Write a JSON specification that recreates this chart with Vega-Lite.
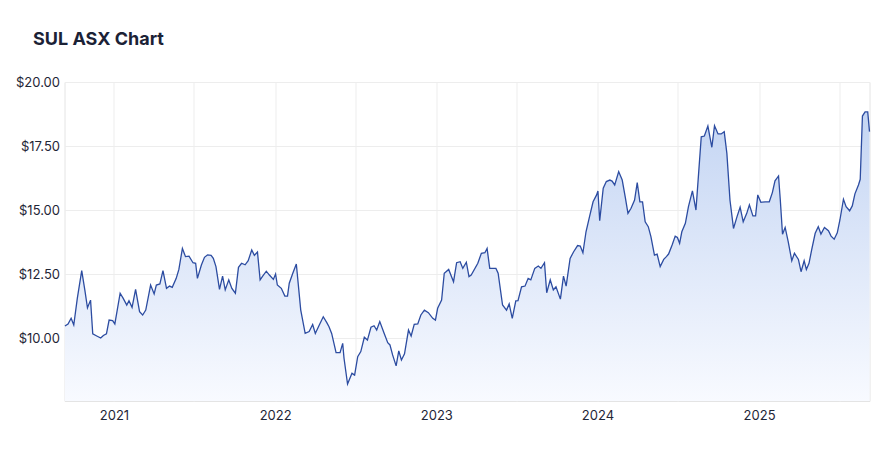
{
  "$schema": "https://vega.github.io/schema/vega-lite/v6.json",
  "autosize": {"type": "none"},
  "width": 805,
  "height": 319,
  "padding": {"left": 64.5, "top": 82, "right": 22.5, "bottom": 57},
  "background": "#ffffff",
  "title": {
    "text": "SUL ASX Chart",
    "anchor": "start",
    "frame": "group",
    "dx": -31.5,
    "offset": 27,
    "font": "Inter",
    "fontSize": 18,
    "fontWeight": 700,
    "color": "#1b2236"
  },
  "config": {
    "font": "Inter",
    "view": {"stroke": "#e4e4e4", "strokeWidth": 1},
    "axis": {
      "domain": false,
      "ticks": false,
      "gridColor": "#ededed",
      "gridWidth": 1,
      "labelFont": "Inter",
      "labelFontSize": 13,
      "labelColor": "#1f2637",
      "title": null,
      "zindex": 1
    }
  },
  "data": {
    "values": [
      {"date": "2020-09-12", "price": 10.47},
      {"date": "2020-09-19", "price": 10.55},
      {"date": "2020-09-26", "price": 10.77},
      {"date": "2020-10-02", "price": 10.51},
      {"date": "2020-10-10", "price": 11.55},
      {"date": "2020-10-20", "price": 12.63},
      {"date": "2020-10-27", "price": 11.88},
      {"date": "2020-11-02", "price": 11.18},
      {"date": "2020-11-09", "price": 11.48},
      {"date": "2020-11-14", "price": 10.16},
      {"date": "2020-11-23", "price": 10.08},
      {"date": "2020-12-02", "price": 10.00},
      {"date": "2020-12-08", "price": 10.10},
      {"date": "2020-12-15", "price": 10.16},
      {"date": "2020-12-21", "price": 10.70},
      {"date": "2020-12-29", "price": 10.68},
      {"date": "2021-01-03", "price": 10.55},
      {"date": "2021-01-15", "price": 11.75},
      {"date": "2021-01-22", "price": 11.55},
      {"date": "2021-01-30", "price": 11.29},
      {"date": "2021-02-04", "price": 11.46},
      {"date": "2021-02-11", "price": 11.20},
      {"date": "2021-02-19", "price": 11.90},
      {"date": "2021-02-28", "price": 11.03},
      {"date": "2021-03-07", "price": 10.90},
      {"date": "2021-03-14", "price": 11.09},
      {"date": "2021-03-25", "price": 12.07},
      {"date": "2021-04-02", "price": 11.72},
      {"date": "2021-04-07", "price": 12.07},
      {"date": "2021-04-15", "price": 12.11},
      {"date": "2021-04-22", "price": 12.63},
      {"date": "2021-04-30", "price": 11.94},
      {"date": "2021-05-07", "price": 12.03},
      {"date": "2021-05-13", "price": 11.98},
      {"date": "2021-05-22", "price": 12.33},
      {"date": "2021-05-28", "price": 12.68},
      {"date": "2021-06-05", "price": 13.50},
      {"date": "2021-06-12", "price": 13.18},
      {"date": "2021-06-20", "price": 13.20},
      {"date": "2021-06-29", "price": 12.94},
      {"date": "2021-07-05", "price": 12.92},
      {"date": "2021-07-09", "price": 12.33},
      {"date": "2021-07-18", "price": 12.85},
      {"date": "2021-07-25", "price": 13.15},
      {"date": "2021-08-01", "price": 13.25},
      {"date": "2021-08-09", "price": 13.23},
      {"date": "2021-08-14", "price": 13.11},
      {"date": "2021-08-20", "price": 12.79},
      {"date": "2021-08-28", "price": 11.90},
      {"date": "2021-09-04", "price": 12.42},
      {"date": "2021-09-10", "price": 11.88},
      {"date": "2021-09-18", "price": 12.27},
      {"date": "2021-09-25", "price": 11.94},
      {"date": "2021-10-03", "price": 11.75},
      {"date": "2021-10-10", "price": 12.76},
      {"date": "2021-10-17", "price": 12.92},
      {"date": "2021-10-25", "price": 12.86},
      {"date": "2021-11-01", "price": 13.02},
      {"date": "2021-11-09", "price": 13.44},
      {"date": "2021-11-15", "price": 13.23},
      {"date": "2021-11-22", "price": 13.36},
      {"date": "2021-11-28", "price": 12.27},
      {"date": "2021-12-03", "price": 12.40},
      {"date": "2021-12-12", "price": 12.61},
      {"date": "2021-12-19", "price": 12.46},
      {"date": "2021-12-28", "price": 12.29},
      {"date": "2022-01-02", "price": 12.50},
      {"date": "2022-01-06", "price": 12.07},
      {"date": "2022-01-15", "price": 11.94},
      {"date": "2022-01-23", "price": 11.64},
      {"date": "2022-01-29", "price": 11.64},
      {"date": "2022-02-02", "price": 12.14},
      {"date": "2022-02-10", "price": 12.53},
      {"date": "2022-02-18", "price": 12.89},
      {"date": "2022-02-28", "price": 11.09},
      {"date": "2022-03-10", "price": 10.18},
      {"date": "2022-03-19", "price": 10.25},
      {"date": "2022-03-27", "price": 10.53},
      {"date": "2022-04-02", "price": 10.18},
      {"date": "2022-04-11", "price": 10.51},
      {"date": "2022-04-20", "price": 10.83},
      {"date": "2022-04-28", "price": 10.60},
      {"date": "2022-05-03", "price": 10.44},
      {"date": "2022-05-09", "price": 10.18},
      {"date": "2022-05-19", "price": 9.43},
      {"date": "2022-05-28", "price": 9.43},
      {"date": "2022-06-03", "price": 9.79},
      {"date": "2022-06-06", "price": 9.21},
      {"date": "2022-06-14", "price": 8.20},
      {"date": "2022-06-24", "price": 8.62},
      {"date": "2022-06-30", "price": 8.55},
      {"date": "2022-07-07", "price": 9.27},
      {"date": "2022-07-14", "price": 9.47},
      {"date": "2022-07-22", "price": 10.03},
      {"date": "2022-07-29", "price": 9.92},
      {"date": "2022-08-06", "price": 10.42},
      {"date": "2022-08-13", "price": 10.48},
      {"date": "2022-08-19", "price": 10.31},
      {"date": "2022-08-26", "price": 10.64},
      {"date": "2022-09-05", "price": 10.18},
      {"date": "2022-09-13", "price": 9.82},
      {"date": "2022-09-18", "price": 9.73},
      {"date": "2022-09-24", "price": 9.34},
      {"date": "2022-10-02", "price": 8.91},
      {"date": "2022-10-08", "price": 9.50},
      {"date": "2022-10-14", "price": 9.14},
      {"date": "2022-10-21", "price": 9.38},
      {"date": "2022-10-30", "price": 10.31},
      {"date": "2022-11-05", "price": 10.08},
      {"date": "2022-11-12", "price": 10.53},
      {"date": "2022-11-20", "price": 10.55},
      {"date": "2022-11-27", "price": 10.90},
      {"date": "2022-12-05", "price": 11.09},
      {"date": "2022-12-14", "price": 10.99},
      {"date": "2022-12-24", "price": 10.77},
      {"date": "2022-12-30", "price": 10.70},
      {"date": "2023-01-04", "price": 11.16},
      {"date": "2023-01-13", "price": 11.48},
      {"date": "2023-01-19", "price": 12.53},
      {"date": "2023-01-29", "price": 12.68},
      {"date": "2023-02-09", "price": 12.20},
      {"date": "2023-02-16", "price": 12.94},
      {"date": "2023-02-24", "price": 12.98},
      {"date": "2023-03-02", "price": 12.72},
      {"date": "2023-03-10", "price": 12.96},
      {"date": "2023-03-16", "price": 12.40},
      {"date": "2023-03-21", "price": 12.46},
      {"date": "2023-04-05", "price": 12.92},
      {"date": "2023-04-13", "price": 13.31},
      {"date": "2023-04-21", "price": 13.33},
      {"date": "2023-04-26", "price": 13.50},
      {"date": "2023-05-02", "price": 12.72},
      {"date": "2023-05-16", "price": 12.72},
      {"date": "2023-05-21", "price": 12.53},
      {"date": "2023-05-31", "price": 11.29},
      {"date": "2023-06-09", "price": 11.09},
      {"date": "2023-06-15", "price": 11.33},
      {"date": "2023-06-22", "price": 10.77},
      {"date": "2023-06-30", "price": 11.45},
      {"date": "2023-07-05", "price": 11.46},
      {"date": "2023-07-13", "price": 12.00},
      {"date": "2023-07-21", "price": 12.03},
      {"date": "2023-07-28", "price": 12.33},
      {"date": "2023-08-03", "price": 12.27},
      {"date": "2023-08-12", "price": 12.72},
      {"date": "2023-08-20", "price": 12.81},
      {"date": "2023-08-26", "price": 12.72},
      {"date": "2023-09-03", "price": 12.94},
      {"date": "2023-09-08", "price": 11.77},
      {"date": "2023-09-16", "price": 12.27},
      {"date": "2023-09-23", "price": 11.88},
      {"date": "2023-09-29", "price": 12.00},
      {"date": "2023-10-09", "price": 11.52},
      {"date": "2023-10-16", "price": 12.42},
      {"date": "2023-10-22", "price": 12.03},
      {"date": "2023-10-31", "price": 13.11},
      {"date": "2023-11-08", "price": 13.37},
      {"date": "2023-11-17", "price": 13.61},
      {"date": "2023-11-23", "price": 13.59},
      {"date": "2023-11-29", "price": 13.33},
      {"date": "2023-12-06", "price": 14.15},
      {"date": "2023-12-14", "price": 14.74},
      {"date": "2023-12-22", "price": 15.32},
      {"date": "2023-12-30", "price": 15.59},
      {"date": "2024-01-02", "price": 15.74},
      {"date": "2024-01-06", "price": 14.58},
      {"date": "2024-01-14", "price": 15.85},
      {"date": "2024-01-21", "price": 16.11},
      {"date": "2024-01-29", "price": 16.17},
      {"date": "2024-02-03", "price": 16.13},
      {"date": "2024-02-09", "price": 15.98},
      {"date": "2024-02-18", "price": 16.50},
      {"date": "2024-02-26", "price": 16.17},
      {"date": "2024-03-04", "price": 15.49},
      {"date": "2024-03-10", "price": 14.87},
      {"date": "2024-03-17", "price": 15.07},
      {"date": "2024-03-25", "price": 15.39},
      {"date": "2024-03-31", "price": 16.07},
      {"date": "2024-04-06", "price": 15.32},
      {"date": "2024-04-12", "price": 15.32},
      {"date": "2024-04-18", "price": 14.54},
      {"date": "2024-04-25", "price": 14.35},
      {"date": "2024-05-01", "price": 13.96},
      {"date": "2024-05-09", "price": 13.24},
      {"date": "2024-05-15", "price": 13.28},
      {"date": "2024-05-22", "price": 12.79},
      {"date": "2024-05-30", "price": 13.07},
      {"date": "2024-06-05", "price": 13.18},
      {"date": "2024-06-10", "price": 13.28},
      {"date": "2024-06-18", "price": 13.63},
      {"date": "2024-06-25", "price": 13.98},
      {"date": "2024-06-30", "price": 13.93},
      {"date": "2024-07-05", "price": 13.70},
      {"date": "2024-07-10", "price": 14.15},
      {"date": "2024-07-18", "price": 14.48},
      {"date": "2024-07-25", "price": 15.13},
      {"date": "2024-08-03", "price": 15.75},
      {"date": "2024-08-11", "price": 15.00},
      {"date": "2024-08-17", "price": 16.43},
      {"date": "2024-08-23", "price": 17.86},
      {"date": "2024-08-30", "price": 17.89},
      {"date": "2024-09-07", "price": 18.28},
      {"date": "2024-09-16", "price": 17.45},
      {"date": "2024-09-22", "price": 18.29},
      {"date": "2024-09-30", "price": 17.97},
      {"date": "2024-10-07", "price": 17.97},
      {"date": "2024-10-14", "price": 18.06},
      {"date": "2024-10-20", "price": 17.21},
      {"date": "2024-10-27", "price": 15.39},
      {"date": "2024-11-04", "price": 14.28},
      {"date": "2024-11-12", "price": 14.74},
      {"date": "2024-11-19", "price": 15.11},
      {"date": "2024-11-26", "price": 14.54},
      {"date": "2024-12-04", "price": 14.87},
      {"date": "2024-12-10", "price": 15.20},
      {"date": "2024-12-18", "price": 14.77},
      {"date": "2024-12-24", "price": 14.77},
      {"date": "2024-12-29", "price": 15.59},
      {"date": "2025-01-05", "price": 15.30},
      {"date": "2025-01-15", "price": 15.32},
      {"date": "2025-01-24", "price": 15.32},
      {"date": "2025-01-31", "price": 15.68},
      {"date": "2025-02-06", "price": 16.14},
      {"date": "2025-02-14", "price": 16.33},
      {"date": "2025-02-18", "price": 15.39},
      {"date": "2025-02-23", "price": 14.05},
      {"date": "2025-03-01", "price": 14.32},
      {"date": "2025-03-08", "price": 13.76},
      {"date": "2025-03-16", "price": 13.02},
      {"date": "2025-03-22", "price": 13.31},
      {"date": "2025-03-31", "price": 13.07},
      {"date": "2025-04-06", "price": 12.59},
      {"date": "2025-04-13", "price": 13.02},
      {"date": "2025-04-18", "price": 12.68},
      {"date": "2025-04-24", "price": 12.92},
      {"date": "2025-04-30", "price": 13.44},
      {"date": "2025-05-08", "price": 14.09},
      {"date": "2025-05-15", "price": 14.35},
      {"date": "2025-05-21", "price": 14.06},
      {"date": "2025-05-29", "price": 14.32},
      {"date": "2025-06-07", "price": 14.19},
      {"date": "2025-06-13", "price": 13.98},
      {"date": "2025-06-20", "price": 13.86},
      {"date": "2025-06-27", "price": 14.11},
      {"date": "2025-07-03", "price": 14.61},
      {"date": "2025-07-11", "price": 15.42},
      {"date": "2025-07-17", "price": 15.13},
      {"date": "2025-07-25", "price": 14.97},
      {"date": "2025-07-31", "price": 15.16},
      {"date": "2025-08-06", "price": 15.63},
      {"date": "2025-08-14", "price": 15.98},
      {"date": "2025-08-18", "price": 16.20},
      {"date": "2025-08-23", "price": 18.67},
      {"date": "2025-08-29", "price": 18.83},
      {"date": "2025-09-04", "price": 18.83},
      {"date": "2025-09-08", "price": 18.06}
    ]
  },
  "encoding": {
    "x": {
      "field": "date",
      "type": "temporal",
      "scale": {
        "domain": [
          {"year": 2020, "month": 9, "date": 11, "utc": true},
          {"year": 2025, "month": 9, "date": 8, "utc": true}
        ]
      },
      "axis": {
        "values": [
          {"year": 2021, "month": 1, "date": 1, "utc": true},
          {"year": 2021, "month": 7, "date": 1, "utc": true},
          {"year": 2022, "month": 1, "date": 1, "utc": true},
          {"year": 2022, "month": 7, "date": 1, "utc": true},
          {"year": 2023, "month": 1, "date": 1, "utc": true},
          {"year": 2023, "month": 7, "date": 1, "utc": true},
          {"year": 2024, "month": 1, "date": 1, "utc": true},
          {"year": 2024, "month": 7, "date": 1, "utc": true},
          {"year": 2025, "month": 1, "date": 1, "utc": true},
          {"year": 2025, "month": 7, "date": 1, "utc": true}
        ],
        "labelExpr": "utcmonth(datum.value) == 0 ? utcFormat(datum.value, '%Y') : ''",
        "labelPadding": 8,
        "labelFlush": false,
        "labelOverlap": false
      }
    },
    "y": {
      "field": "price",
      "type": "quantitative",
      "scale": {"domain": [7.54, 20], "zero": false, "nice": false},
      "axis": {
        "values": [10, 12.5, 15, 17.5, 20],
        "format": "$.2f",
        "labelPadding": 5
      }
    }
  },
  "layer": [
    {
      "mark": {
        "type": "area",
        "color": {
          "gradient": "linear",
          "x1": 0, "y1": 0, "x2": 0, "y2": 1,
          "stops": [
            {"offset": 0, "color": "#c4d5f3"},
            {"offset": 1, "color": "#f8faff"}
          ]
        }
      },
      "encoding": {
        "y2": {"datum": 7.54}
      }
    },
    {
      "mark": {"type": "line", "color": "#2c4ca1", "strokeWidth": 1.3}
    }
  ]
}
